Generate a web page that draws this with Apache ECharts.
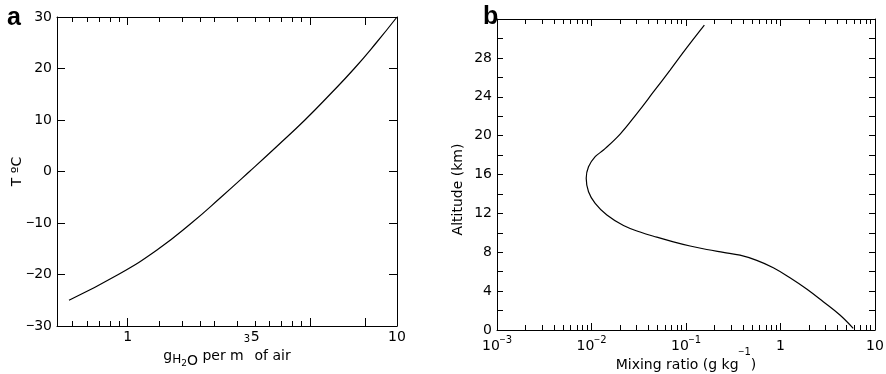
<!DOCTYPE html>
<html><head><meta charset="utf-8">
<script src="https://cdn.jsdelivr.net/npm/echarts@6/dist/echarts.min.js"></script>
<style>html,body{margin:0;padding:0;background:#fff}#c{width:886px;height:374px}</style>
</head><body><div id="c"></div>
<script>
// ---- Panel a: saturation vapour density (g per m3) vs temperature (deg C) ----
const satDensity = [0.477, 0.889, 1.48, 2.24, 3.25, 4.66, 6.64, 9.38, 12.9, 17.5, 23.1, 30];
const tempC      = [-25, -20, -15, -10, -5, 0, 5, 10, 15, 20, 25, 30];
const xMinorTicksA = [0.5, 0.6, 0.7, 0.8, 0.9, 1.5, 2, 2.5, 3, 4, 5, 6, 7, 8, 9];
const xMajorTicksA = [1, 10, 20];
const xLabelValuesA = [1, 5, 30];
const xLabelTextsA = ['1', '5', '10'];
const yTicksA = [-30, -20, -10, 0, 10, 20, 30];

// ---- Panel b: water vapour mixing ratio profile ----
const mixingRatio = [0.1564, 0.102, 0.0679, 0.0452, 0.0302, 0.0201, 0.01339, 0.01094, 0.0093, 0.00879, 0.0093, 0.01094, 0.01455, 0.0218, 0.0327, 0.0491, 0.0736, 0.1105, 0.1659, 0.2484, 0.3731, 0.5603, 0.8394, 1.26, 1.892, 2.835, 4.256, 5.885];
const altitudeKm  = [31.38, 29.06, 26.75, 24.49, 22.27, 20.16, 18.52, 17.83, 16.80, 15.61, 14.23, 13.03, 11.83, 10.75, 10.08, 9.55, 9.07, 8.64, 8.28, 7.99, 7.70, 7.17, 6.41, 5.38, 4.22, 2.91, 1.54, 0.17];
const decadesB = [0.001, 0.01, 0.1, 1, 10];
const decadeLabelsB = ['{n|10}{supm|−}{sup|3}', '{n|10}{supm|−}{sup|2}', '{n|10}{supm|−}{sup|1}', '{n|1}', '{n|10}'];
const minorMultipliersB = [2, 3, 4, 5, 6, 7, 8, 9];
const yLabelStepB = 4;

const FONT = "'DejaVu Sans', 'Liberation Sans', Arial, sans-serif";
const FONT_M = "'Liberation Sans', Arial, sans-serif";
const FONT_T = "'Liberation Sans', Arial, Helvetica, sans-serif";
const BLACK = '#000';
const LS = {color: BLACK, width: 1};

const minorTicksB = [];
decadesB.slice(0, -1).forEach(d => minorMultipliersB.forEach(m => minorTicksB.push(+(d * m).toPrecision(3))));

function tickAxis(grid, type, pos, min, max, ticks, len, showLine) {
  return {
    gridIndex: grid, type: type, position: pos, min: min, max: max,
    axisLine: {show: showLine, onZero: false, lineStyle: LS},
    axisTick: {show: true, inside: true, length: len, customValues: ticks, lineStyle: LS},
    axisLabel: {show: false},
    splitLine: {show: false}, minorTick: {show: false}
  };
}
function tok(size, lh, pad, fam) {
  return {fontSize: size, lineHeight: lh, verticalAlign: 'top', padding: [pad, 0, 0, 0], fontFamily: fam || FONT, color: BLACK};
}

const xAxes = [];
// panel a bottom (labels + minor ticks)
const a0 = tickAxis(0, 'log', 'bottom', 0.41, 30, xMinorTicksA, 5, true);
a0.axisLabel = {
  show: true, customValues: xLabelValuesA, margin: 4, color: BLACK, fontSize: 14, fontFamily: FONT,
  formatter: v => { const i = xLabelValuesA.findIndex(x => Math.abs(x - v) / x < 1e-3); return i >= 0 ? xLabelTextsA[i] : ''; }
};
a0.name = '{n|g}{h|H}{two|2}{o|O}{n| per m}{sup|3}{n| of air}';
a0.nameLocation = 'middle';
a0.nameGap = 8;
a0.nameMoveOverlap = false;
a0.nameTextStyle = {
  color: BLACK, fontFamily: FONT,
  rich: {n: tok(14, 14, 15), h: tok(12, 12, 20), two: tok(9, 9, 25), o: tok(14, 14, 20), sup: tok(10, 10, 0)}
};
xAxes.push(a0);
xAxes.push(tickAxis(0, 'log', 'bottom', 0.41, 30, xMajorTicksA, 8, false));
xAxes.push(tickAxis(0, 'log', 'top', 0.41, 30, xMinorTicksA, 5, true));
xAxes.push(tickAxis(0, 'log', 'top', 0.41, 30, xMajorTicksA, 8, false));
// panel b
const b0 = tickAxis(1, 'log', 'bottom', 0.001, 10, minorTicksB, 5, true);
b0.axisLabel = {
  show: true, customValues: decadesB, margin: 5, color: BLACK, fontFamily: FONT,
  formatter: v => { const i = decadesB.findIndex(x => Math.abs(x - v) / x < 1e-3); return i >= 0 ? decadeLabelsB[i] : ''; },
  rich: {n: tok(14, 14, 4), supm: tok(10, 10, 0, FONT_M), sup: tok(10, 10, 0)}
};
b0.name = '{n|Mixing ratio (g kg}{supm|−}{sup|1}{n|)}';
b0.nameLocation = 'middle';
b0.nameGap = 17;
b0.nameMoveOverlap = false;
b0.nameTextStyle = {
  color: BLACK, fontFamily: FONT,
  rich: {n: tok(14, 14, 11), supm: tok(10, 10, 0, FONT_M), sup: tok(10, 10, 0)}
};
xAxes.push(b0);
xAxes.push(tickAxis(1, 'log', 'bottom', 0.001, 10, decadesB, 7, false));
xAxes.push(tickAxis(1, 'log', 'top', 0.001, 10, minorTicksB, 5, true));
xAxes.push(tickAxis(1, 'log', 'top', 0.001, 10, decadesB, 7, false));

function yAx(grid, pos, min, max, interval, len, label, name, nameGap, namePad) {
  const o = {
    gridIndex: grid, type: 'value', position: pos, min: min, max: max, interval: interval,
    axisLine: {show: true, onZero: false, lineStyle: LS},
    axisTick: {show: true, inside: true, length: len, lineStyle: LS},
    axisLabel: label ? Object.assign({show: true, margin: 5, color: BLACK, fontSize: 14, fontFamily: FONT}, label) : {show: false},
    splitLine: {show: false}
  };
  if (name) {
    o.name = name; o.nameLocation = 'middle'; o.nameGap = nameGap; o.nameRotate = 90; o.nameMoveOverlap = false;
    o.nameTextStyle = {color: BLACK, fontSize: 14, fontFamily: FONT, padding: namePad};
  }
  return o;
}

const yAxes = [
  yAx(0, 'left', yTicksA[0], yTicksA[yTicksA.length - 1], 10, 8,
      {formatter: v => v < 0 ? '{m|−}' + Math.abs(v) : String(v),
       rich: {m: {fontFamily: FONT_M, fontSize: 14, color: BLACK}}}, 'T ºC', 33, [0, 0, 0, 0]),
  yAx(0, 'right', yTicksA[0], yTicksA[yTicksA.length - 1], 10, 8, null),
  yAx(1, 'left', 0, 32, 2, 6,
      {formatter: v => (v % yLabelStepB === 0 && v < 32) ? String(v) : ''}, 'Altitude (km)', 32, [0, 30, 0, 0]),
  yAx(1, 'right', 0, 32, 2, 6, null)
];

const option = {
  animation: false,
  backgroundColor: '#fff',
  textStyle: {fontFamily: FONT},
  title: [
    {text: 'a', left: 7, top: 6, padding: 0, textStyle: {fontSize: 25, fontWeight: 'bold', fontFamily: FONT_T, color: BLACK}},
    {text: 'b', left: 483, top: 5, padding: 0, textStyle: {fontSize: 25, fontWeight: 'bold', fontFamily: FONT_T, color: BLACK}}
  ],
  grid: [
    {left: 57, top: 17, width: 340, height: 309, containLabel: false, outerBoundsMode: 'none'},
    {left: 497, top: 19, width: 378, height: 311, containLabel: false, outerBoundsMode: 'none'}
  ],
  xAxis: xAxes,
  yAxis: yAxes,
  series: [
    {type: 'line', xAxisIndex: 0, yAxisIndex: 0, data: satDensity.map((v, i) => [v, tempC[i]]),
     showSymbol: false, smooth: true, lineStyle: {color: BLACK, width: 1.2}},
    {type: 'line', xAxisIndex: 4, yAxisIndex: 2, data: mixingRatio.map((v, i) => [v, altitudeKm[i]]),
     showSymbol: false, smooth: 0.4, lineStyle: {color: BLACK, width: 1.2}}
  ]
};
const chart = echarts.init(document.getElementById('c'), null, {renderer: 'canvas'});
chart.setOption(option);
</script></body></html>
